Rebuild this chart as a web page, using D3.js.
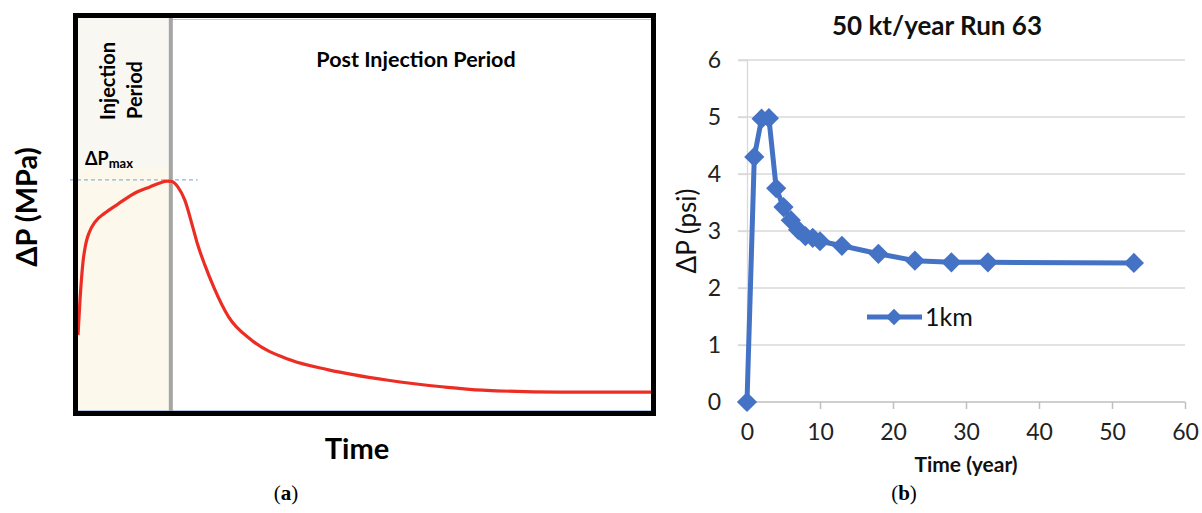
<!DOCTYPE html>
<html>
<head>
<meta charset="utf-8">
<script src="https://cdn.jsdelivr.net/npm/d3@7"></script>
<style>
  body { margin: 0; background: #fff; }
  svg { display: block; }
</style>
</head>
<body>
<script>
// ---------- Panel (a): schematic pressure history (arbitrary units) ----------
const schematicTime = [0, 0.35, 0.87, 1.39, 1.92, 2.96, 4.7, 6.97, 10.28, 12.54, 14.29, 15.51, 16.38,
  17.42, 18.64, 20.03, 20.91, 22.13, 23.69, 26.31, 30.31, 37.11, 43.73, 53.83, 63.94, 70.56, 83.97, 100];
const schematicPressure = [19.2, 28.2, 37.9, 42.8, 45.4, 48.2, 50.5, 52.8, 55.9, 57.2, 58.2, 58.7, 58.6,
  57.2, 53.8, 46.9, 42.3, 37.2, 31.5, 23.8, 17.9, 12.8, 10.3, 7.7, 5.9, 5.1, 4.6, 4.6];
const injectionEnd = 16.2;
const peakPressure = 59;
const peakLineExtent = [-1.4, 20.9];

// ---------- Panel (b): simulated pressure change, 1 km ----------
const years = [0, 1, 2, 3, 4, 5, 6, 7, 8, 9, 10, 13, 18, 23, 28, 33, 53];
const deltaPpsi = [0, 4.3, 4.97, 4.98, 3.75, 3.42, 3.19, 3.02, 2.91, 2.88, 2.82, 2.74, 2.6, 2.48, 2.45, 2.45, 2.44];
const xTicksB = [0, 10, 20, 30, 40, 50, 60];
const yTicksB = [0, 1, 2, 3, 4, 5, 6];
const seriesName = "1km";

const W = 1202, H = 513;
const svg = d3.select("body").append("svg").attr("width", W).attr("height", H);
const font = "Lato, 'Open Sans', sans-serif";

// ===================== Panel (a) =====================
const aLeft = 78, aRight = 651, aTop = 18, aBottom = 412;
const xA = d3.scaleLinear().domain([0, 100]).range([aLeft, aRight]);
const yA = d3.scaleLinear().domain([0, 100]).range([410, 20]);

const gA = svg.append("g");
gA.append("defs").append("clipPath").attr("id", "clipA")
  .append("rect").attr("x", aLeft).attr("y", aTop).attr("width", aRight - aLeft).attr("height", aBottom - aTop);

// injection-period shading
gA.append("rect")
  .attr("x", aLeft).attr("y", aTop)
  .attr("width", xA(injectionEnd) - aLeft).attr("height", aBottom - aTop)
  .attr("fill", "#fcf8ec");
gA.append("rect")
  .attr("x", aLeft).attr("y", aTop)
  .attr("width", xA(injectionEnd) - aLeft).attr("height", 150)
  .attr("fill", "#f8f7f2");

// thin inner frame lines
gA.append("line").attr("x1", xA(injectionEnd)).attr("x2", aRight).attr("y1", aTop + 1.5).attr("y2", aTop + 1.5)
  .attr("stroke", "#b8c9e6").attr("stroke-width", 1);
gA.append("line").attr("x1", aLeft).attr("x2", aRight).attr("y1", aBottom - 1.5).attr("y2", aBottom - 1.5)
  .attr("stroke", "#b8c9e6").attr("stroke-width", 1);

// ΔPmax reference level
gA.append("line")
  .attr("x1", xA(peakLineExtent[0])).attr("x2", xA(peakLineExtent[1]))
  .attr("y1", yA(peakPressure)).attr("y2", yA(peakPressure))
  .attr("stroke", "#8fb3e0").attr("stroke-width", 1.2).attr("stroke-dasharray", "4,3");

// end of injection marker
gA.append("line")
  .attr("x1", xA(injectionEnd)).attr("x2", xA(injectionEnd))
  .attr("y1", aTop).attr("y2", aBottom)
  .attr("stroke", "#a5a5a5").attr("stroke-width", 4);

// pressure curve
const lineA = d3.line()
  .x((d, i) => xA(schematicTime[i]))
  .y((d, i) => yA(schematicPressure[i]))
  .curve(d3.curveMonotoneX);
gA.append("path")
  .datum(schematicTime)
  .attr("d", lineA)
  .attr("clip-path", "url(#clipA)")
  .attr("fill", "none").attr("stroke", "#ec2d24").attr("stroke-width", 3.2);

// outer frame
gA.append("rect")
  .attr("x", 75.5).attr("y", 15.5).attr("width", 578).attr("height", 398)
  .attr("fill", "none").attr("stroke", "#000").attr("stroke-width", 5);

// labels
gA.append("text")
  .attr("transform", `translate(115,120) rotate(-90)`)
  .attr("font-family", font).attr("font-weight", 700).attr("font-size", 20)
  .text("Injection");
gA.append("text")
  .attr("transform", `translate(142,119) rotate(-90)`)
  .attr("font-family", font).attr("font-weight", 700).attr("font-size", 20)
  .text("Period");

const pm = gA.append("text").attr("x", 85).attr("y", 165)
  .attr("font-family", font).attr("font-weight", 700).attr("font-size", 18);
pm.append("tspan").text("ΔP");
pm.append("tspan").attr("font-size", 13).attr("dy", 3).text("max");

gA.append("text")
  .attr("x", 416).attr("y", 67).attr("text-anchor", "middle")
  .attr("font-family", font).attr("font-weight", 700).attr("font-size", 21.5)
  .text("Post Injection Period");

gA.append("text")
  .attr("transform", `translate(37,207) rotate(-90)`)
  .attr("text-anchor", "middle")
  .attr("font-family", font).attr("font-weight", 700).attr("font-size", 29)
  .text("ΔP (MPa)");

gA.append("text")
  .attr("x", 357).attr("y", 459).attr("text-anchor", "middle")
  .attr("font-family", font).attr("font-weight", 700).attr("font-size", 29)
  .text("Time");

const capA = svg.append("text").attr("x", 286).attr("y", 500).attr("text-anchor", "middle")
  .attr("font-family", "'Liberation Serif', 'DejaVu Serif', serif").attr("font-size", 21);
capA.append("tspan").text("(");
capA.append("tspan").attr("font-weight", 700).text("a");
capA.append("tspan").text(")");

// ===================== Panel (b) =====================
const xB = d3.scaleLinear().domain([0, 60]).range([747, 1185]);
const yB = d3.scaleLinear().domain([0, 6]).range([402, 60]);
const gB = svg.append("g");

// horizontal gridlines
gB.selectAll("line.grid").data(yTicksB.filter(v => v > 0)).join("line")
  .attr("class", "grid")
  .attr("x1", xB(0) - 9).attr("x2", xB(60))
  .attr("y1", d => yB(d)).attr("y2", d => yB(d))
  .attr("stroke", "#d9d9d9").attr("stroke-width", 1.3);

// y axis
const yAxis = gB.append("g").attr("transform", `translate(${xB(0)},0)`)
  .call(d3.axisLeft(yB).tickValues(yTicksB).tickFormat(d3.format("d")).tickSize(9).tickPadding(17));
yAxis.select(".domain").attr("stroke", "#d9d9d9").attr("stroke-width", 1.3);
yAxis.selectAll(".tick line").attr("stroke", "#d9d9d9").attr("stroke-width", 1.3);
yAxis.selectAll("text").attr("font-family", font).attr("font-size", 23).attr("fill", "#222");

// x axis
const xAxis = gB.append("g").attr("transform", `translate(0,${yB(0)})`)
  .call(d3.axisBottom(xB).tickValues(xTicksB).tickFormat(d3.format("d")).tickSize(7).tickPadding(15));
xAxis.select(".domain").attr("stroke", "#bfbfbf").attr("stroke-width", 1.5).attr("d", `M${xB(0)},0H${xB(60)}`);
xAxis.selectAll(".tick line").attr("stroke", "#bfbfbf").attr("stroke-width", 1.5);
xAxis.selectAll("text").attr("font-family", font).attr("font-size", 23).attr("fill", "#222");

// series line and markers
const blue = "#4472c4";
const lineB = d3.line().x((d, i) => xB(years[i])).y((d, i) => yB(deltaPpsi[i]));
gB.append("path").datum(years).attr("d", lineB)
  .attr("fill", "none").attr("stroke", blue).attr("stroke-width", 5).attr("stroke-linejoin", "round");
const diamond = d3.symbol().type(d3.symbolDiamond2).size(260);
gB.selectAll("path.pt").data(years).join("path")
  .attr("class", "pt")
  .attr("transform", (d, i) => `translate(${xB(years[i])},${yB(deltaPpsi[i])})`)
  .attr("d", diamond).attr("fill", blue);

// legend
const lg = gB.append("g").attr("transform", "translate(867,317)");
lg.append("line").attr("x1", 0).attr("x2", 55).attr("stroke", blue).attr("stroke-width", 5);
lg.append("path").attr("transform", "translate(27,0)").attr("d", d3.symbol().type(d3.symbolDiamond2).size(170)).attr("fill", blue);
lg.append("text").attr("x", 58).attr("y", 9)
  .attr("font-family", font).attr("font-size", 25).attr("fill", "#111").text(seriesName);

// titles
gB.append("text").attr("x", 937).attr("y", 35).attr("text-anchor", "middle")
  .attr("font-family", font).attr("font-weight", 700).attr("font-size", 26).attr("fill", "#111")
  .text("50 kt/year Run 63");
gB.append("text").attr("x", 966).attr("y", 472).attr("text-anchor", "middle")
  .attr("font-family", font).attr("font-weight", 700).attr("font-size", 21).attr("fill", "#111")
  .text("Time (year)");
gB.append("text").attr("transform", "translate(696,231) rotate(-90)").attr("text-anchor", "middle")
  .attr("font-family", font).attr("font-size", 26).attr("fill", "#111")
  .text("ΔP (psi)");

const capB = svg.append("text").attr("x", 904).attr("y", 500).attr("text-anchor", "middle")
  .attr("font-family", "'Liberation Serif', 'DejaVu Serif', serif").attr("font-size", 21);
capB.append("tspan").text("(");
capB.append("tspan").attr("font-weight", 700).text("b");
capB.append("tspan").text(")");
</script>
</body>
</html>
